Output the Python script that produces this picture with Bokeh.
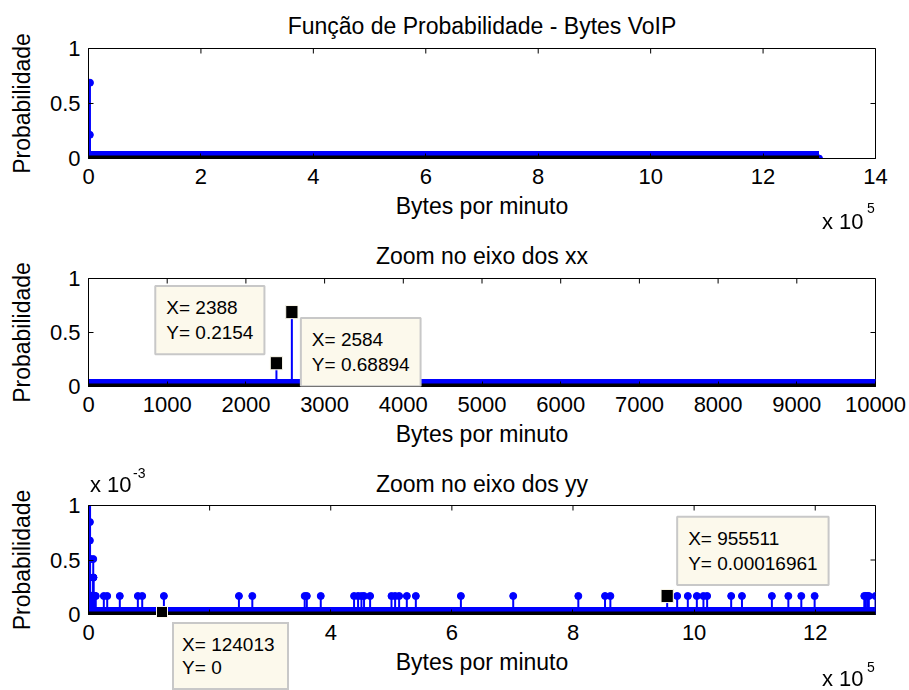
import math
from bokeh.plotting import figure
from bokeh.layouts import column
from bokeh.models import FixedTicker, Label, Range1d, Div
from bokeh.embed import file_html
from bokeh.resources import INLINE

FONT = "Liberation Sans"
BLUE = "#0000ff"

# ---------------- data (bytes per minute -> probability) ----------------
x_bytes = [534, 2125, 2210, 2273, 2337, 2388, 2440, 2548, 2584, 2612, 2655,
           4351, 4436, 4520, 4584, 4733, 5305, 5411, 5602, 6154,
           7362, 7447, 7532, 7617, 7723, 7829, 7956, 8041, 8104, 8168, 8253, 8337,
           9440, 9609, 9800, 12000, 25300, 30900, 51700, 81500, 88700, 124500,
           248400, 270500, 357000, 360500, 383500, 438500, 445100, 450700, 455000, 465000,
           500300, 506300, 512900, 525600, 540500, 614900, 701300, 808800, 852900, 861700,
           955511, 972000, 989600, 1004500, 1015400, 1021500, 1061200, 1079000,
           1128400, 1155600, 1177000, 1199000, 1281000, 1283500, 1286000, 1288500, 1299500]
prob = [0.00016961, 0.00033921, 0.00050882, 0.00067843, 0.00084803, 0.2154, 0.00033921,
        0.00050882, 0.68894, 0.00016961, 0.00033921,
        0.00016961, 0.00016961, 0.00016961, 0.00016961, 0.00016961, 0.00016961, 0.00016961,
        0.00016961, 0.00016961,
        0.00016961, 0.00016961, 0.00016961, 0.00016961, 0.00016961, 0.00050882, 0.00033921,
        0.00016961, 0.00016961, 0.00033921, 0.00016961, 0.00016961,
        0.00016961, 0.00016961, 0.00016961, 0.00016961, 0.00016961, 0.00016961, 0.00016961,
        0.00016961, 0.00016961, 0.00016961,
        0.00016961, 0.00016961, 0.00016961, 0.00016961, 0.00016961, 0.00016961, 0.00016961,
        0.00016961, 0.00016961, 0.00016961,
        0.00016961, 0.00016961, 0.00016961, 0.00016961, 0.00016961, 0.00016961, 0.00016961,
        0.00016961, 0.00016961, 0.00016961,
        0.00016961, 0.00016961, 0.00016961, 0.00016961, 0.00016961, 0.00016961, 0.00016961,
        0.00016961,
        0.00016961, 0.00016961, 0.00016961, 0.00016961, 0.00016961, 0.00016961, 0.00016961,
        0.00016961, 0.00016961]
bin_min = 0  # histogram bins (with zero counts) start here

# data tips
tip_x = [2388, 2584, 124013, 955511]
tip_y = [0.2154, 0.68894, 0, 0.00016961]
tip_text = ["X= 2388\nY= 0.2154", "X= 2584\nY= 0.68894",
            "X= 124013\nY= 0", "X= 955511\nY= 0.00016961"]

# axis ticks / labels
titles = ["Função de Probabilidade - Bytes VoIP", "Zoom no eixo dos xx", "Zoom no eixo dos yy"]
x_label = "Bytes por minuto"
y_label = "Probabilidade"
x1_ticks = [0, 200000, 400000, 600000, 800000, 1000000, 1200000, 1400000]
x1_labels = ["0", "2", "4", "6", "8", "10", "12", "14"]
x2_ticks = [0, 1000, 2000, 3000, 4000, 5000, 6000, 7000, 8000, 9000, 10000]
x2_labels = ["0", "1000", "2000", "3000", "4000", "5000", "6000", "7000", "8000", "9000", "10000"]
x3_ticks = [0, 200000, 400000, 600000, 800000, 1000000, 1200000]
x3_labels = ["0", "2", "4", "6", "8", "10", "12"]
y12_ticks = [0, 0.5, 1]
y12_labels = ["0", "0.5", "1"]
y3_ticks = [0, 0.0005, 0.001]
y3_labels = ["0", "0.5", "1"]
x_exp = "5"
y3_exp = "-3"

TICK_FS = "22px"
LABEL_FS = "23px"
TIP_FS = "19px"
TIP_BG = "#fcf9ec"
TIP_BORDER = "#c8c8c8"

# frame geometry (pixels): left, width
FR_L, FR_W = 88, 787
P3_TOP, P3_H = 504, 110


def style_axis(ax, ticks, labels):
    ax.ticker = FixedTicker(ticks=ticks)
    ax.major_label_overrides = {t: l for t, l in zip(ticks, labels)}
    ax.major_tick_in = 5
    ax.major_tick_out = 0
    ax.minor_tick_line_color = None
    ax.major_tick_line_color = "black"
    ax.axis_line_color = "black"
    ax.major_label_text_font = FONT
    ax.major_label_text_color = "black"
    ax.major_label_text_font_size = TICK_FS


def make_panel(title, x_end, y_end, xt, xl, yt, yl, h, top, bottom, tstand, tips):
    p = figure(width=909, height=h, x_range=Range1d(0, x_end), y_range=Range1d(0, y_end),
               output_backend="svg", toolbar_location=None,
               min_border_left=FR_L, min_border_right=909 - FR_L - FR_W, min_border_top=top,
               min_border_bottom=bottom)
    p.title.text = title
    p.title.align = "center"
    p.title.text_font = FONT
    p.title.text_font_size = LABEL_FS
    p.title.text_font_style = "normal"
    p.title.text_color = "black"
    p.title.standoff = tstand
    p.grid.visible = False
    p.outline_line_color = "black"
    p.background_fill_color = "white"
    p.border_fill_color = "white"

    style_axis(p.xaxis[0], xt, xl)
    style_axis(p.yaxis[0], yt, yl)
    p.xaxis.major_label_standoff = 10
    p.yaxis.major_label_standoff = 8
    p.xaxis.axis_label = x_label
    p.yaxis.axis_label = y_label
    for ax in (p.xaxis[0], p.yaxis[0]):
        ax.axis_label_text_font = FONT
        ax.axis_label_text_font_size = LABEL_FS
        ax.axis_label_text_font_style = "normal"
        ax.axis_label_text_color = "black"
    p.xaxis.axis_label_standoff = 6
    p.yaxis.axis_label_standoff = 12

    # inward ticks mirrored on the top and right edges of the box
    p.scatter(xt, [y_end] * len(xt), marker="dash", angle=math.pi / 2, size=10,
              line_color="black", line_width=1)
    p.scatter([x_end] * len(yt), yt, marker="dash", size=10,
              line_color="black", line_width=1)

    xmax = max(x_bytes)
    # zero-count bins form a thick blue band along the baseline
    p.line([bin_min, xmax], [0, 0], line_width=15, line_color=BLUE)
    p.segment(x0=x_bytes, y0=[0] * len(x_bytes), x1=x_bytes, y1=prob,
              line_color=BLUE, line_width=2)
    p.scatter(x_bytes, prob, marker="circle", size=7, fill_color=BLUE, line_color=BLUE)
    p.line([bin_min, xmax], [0, 0], line_width=6, line_color="black")

    for i, anchor, dx, dy in tips:
        p.add_layout(Label(x=tip_x[i], y=tip_y[i], text=tip_text[i], anchor=anchor,
                           x_offset=dx, y_offset=dy, text_font=FONT,
                           text_font_size=TIP_FS, text_color="black",
                           background_fill_color=TIP_BG, border_line_color=TIP_BORDER,
                           border_line_width=2, padding=11))
        p.add_layout(Label(x=tip_x[i], y=tip_y[i], text=" ", anchor="center",
                           text_font_size="1px", background_fill_color="black",
                           border_line_color=TIP_BG, border_line_width=1, padding=6))
    return p


x3_end = max(x_bytes)
p1 = make_panel(titles[0], 1400000, 1, x1_ticks, x1_labels, y12_ticks, y12_labels,
                230, 47, 72, 20, [])
p2 = make_panel(titles[1], 10000, 1, x2_ticks, x2_labels, y12_ticks, y12_labels,
                230, 47, 74, 20, [(0, "bottom_right", -12, 9), (1, "top_left", 9, -6)])
p3 = make_panel(titles[2], x3_end, 0.001, x3_ticks, x3_labels, y3_ticks, y3_labels,
                230, P3_TOP - 460, 690 - P3_TOP - P3_H, 17, [(3, "bottom_left", 10, 11)])

# texts/marks lying outside the plot frames (would be clipped by the frame):
# HTML overlay fixed to page coordinates
tip3_sx = FR_L + tip_x[2] / x3_end * FR_W
tip3_sy = P3_TOP + P3_H - tip_y[2] / 0.001 * P3_H
F = ("font-family:'Liberation Sans',Arial,sans-serif;line-height:1;white-space:nowrap;"
     "color:#000;position:fixed;z-index:20;margin:0;")
overlay = (
    f'<div style="{F}left:822px;top:211.4px;font-size:22px;">x 10</div>'
    f'<div style="{F}left:867px;top:201.2px;font-size:14px;">{x_exp}</div>'
    f'<div style="{F}left:822px;top:668.4px;font-size:22px;">x 10</div>'
    f'<div style="{F}left:867px;top:660px;font-size:14px;">{x_exp}</div>'
    f'<div style="{F}left:90px;top:474.4px;font-size:22px;">x 10</div>'
    f'<div style="{F}left:133px;top:466.1px;font-size:14px;">{y3_exp}</div>'
    f'<div style="{F}left:{tip3_sx + 9:.1f}px;top:{tip3_sy + 8:.1f}px;font-size:19px;'
    f'line-height:23px;background:{TIP_BG};border:2px solid {TIP_BORDER};'
    f'padding:9px 12px 9px 8px;">{tip_text[2].replace(chr(10), "<br>")}</div>'
    f'<div style="position:fixed;z-index:21;left:{tip3_sx - 7:.1f}px;'
    f'top:{tip3_sy - 8:.1f}px;width:12px;height:12px;background:#000;'
    f'border:1px solid {TIP_BG};"></div>'
)
over = Div(text=overlay, width=909, height=0, styles={"overflow": "visible"})

layout = column(p1, p2, p3, over)
open("out.html", "w").write(file_html(layout, INLINE))
